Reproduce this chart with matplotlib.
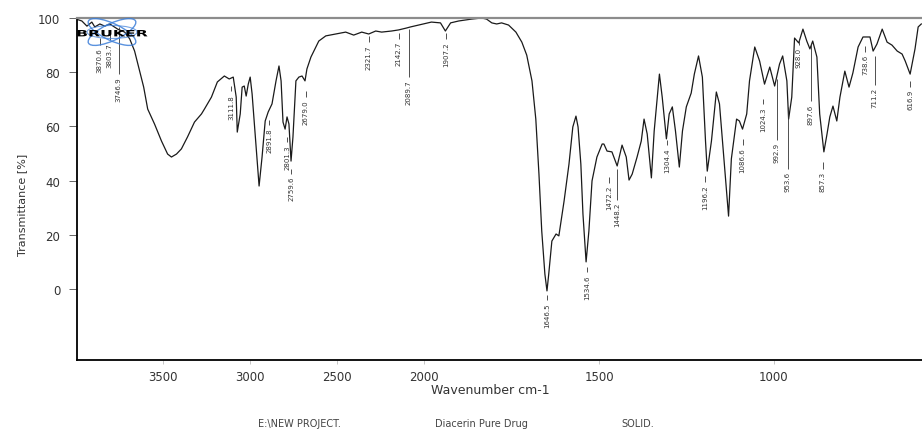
import numpy as np
import matplotlib
matplotlib.use("Agg")
import matplotlib.pyplot as plt
from matplotlib.patches import Ellipse, PathPatch
from matplotlib.textpath import TextPath
from matplotlib.font_manager import FontProperties
from matplotlib.transforms import Affine2D

# spectrum: wavenumber (cm-1) and transmittance (%)
wavenumber = [3990, 3962, 3933, 3905, 3888, 3859, 3831, 3802, 3757, 3717, 3688, 3660, 3631, 3608,
              3585, 3546, 3506, 3471, 3449, 3420, 3392, 3357, 3317, 3277, 3260, 3220, 3186, 3146,
              3118, 3095, 3078, 3072, 3055, 3044, 3032, 3021, 3009, 2998, 2987, 2964, 2947, 2930,
              2912, 2895, 2873, 2850, 2833, 2821, 2810, 2798, 2787, 2776, 2764, 2753, 2736, 2719,
              2701, 2684, 2673, 2650, 2622, 2605, 2565, 2508, 2451, 2405, 2359, 2319, 2279, 2245,
              2188, 2148, 2103, 2080, 2034, 1980, 1954, 1940, 1925, 1902, 1865, 1836, 1822, 1807,
              1793, 1779, 1759, 1738, 1721, 1707, 1692, 1681, 1672, 1664, 1655, 1649, 1644, 1635,
              1623, 1615, 1600, 1586, 1575, 1566, 1560, 1552, 1546, 1537, 1529, 1520, 1506, 1491,
              1486, 1477, 1463, 1448, 1434, 1422, 1414, 1405, 1391, 1379, 1371, 1362, 1350, 1342,
              1327, 1319, 1307, 1299, 1290, 1281, 1270, 1261, 1250, 1236, 1227, 1215, 1204, 1195,
              1190, 1178, 1164, 1155, 1141, 1129, 1121, 1106, 1098, 1089, 1077, 1069, 1054, 1040,
              1026, 1011, 997, 983, 974, 962, 957, 948, 940, 928, 916, 905, 896, 888, 876, 868,
              856, 847, 839, 830, 819, 810, 796, 784, 773, 758, 744, 724, 715, 704, 689, 675,
              661, 646, 632, 623, 609, 595, 586, 577]
transmittance = [99.5, 98.9, 97.0, 98.5, 96.7, 97.8, 97.0, 97.8, 95.9, 94.8, 92.3, 87.8, 80.4, 74.5,
                 66.4, 60.9, 54.6, 49.8, 48.7, 49.8, 51.7, 56.1, 61.6, 64.6, 66.4, 70.8, 76.4, 78.6,
                 77.5, 78.2, 70.8, 57.9, 64.6, 74.5, 74.9, 71.2, 75.6, 78.2, 72.0, 52.4, 38.0, 48.7,
                 62.0, 65.3, 68.3, 76.8, 82.3, 76.8, 61.6, 59.0, 63.5, 60.9, 47.2, 56.1, 76.8, 78.2,
                 78.6, 76.8, 81.2, 85.6, 89.3, 91.5, 93.4, 94.1, 94.8, 93.7, 94.8, 94.1, 95.2, 94.8,
                 95.2, 95.6, 96.3, 96.7, 97.4, 98.5, 98.2, 95.2, 98.2, 98.9, 99.6, 100.0, 99.6, 98.2,
                 97.8, 98.2, 97.4, 94.8, 91.1, 86.3, 76.8, 62.7, 42.4, 21.4, 5.5, -0.7, 5.5, 17.7,
                 20.3, 19.6, 32.5, 46.1, 59.8, 63.8, 59.8, 46.1, 27.7, 10.0, 21.4, 39.9, 48.7, 53.5,
                 53.5, 50.9, 50.6, 45.4, 53.1, 48.7, 40.2, 42.4, 48.7, 54.6, 62.7, 57.2, 41.0, 58.3,
                 79.3, 70.8, 55.4, 64.6, 67.2, 58.3, 45.0, 58.3, 67.2, 72.3, 79.3, 86.0, 78.2, 54.6,
                 43.5, 54.6, 72.7, 68.3, 46.1, 26.9, 48.0, 62.7, 62.0, 59.0, 64.6, 76.8, 89.3, 84.1,
                 75.6, 81.9, 74.9, 83.0, 86.0, 76.8, 62.7, 70.8, 92.6, 90.8, 95.9, 91.5, 88.6, 91.5, 85.6, 64.6,
                 50.6, 57.2, 63.5, 67.5, 62.0, 70.8, 80.4, 74.5, 79.7, 89.3, 93.0, 93.0, 87.8, 90.4, 95.9, 91.1,
                 90.0, 87.8, 86.7, 84.1, 79.3, 88.6, 96.7, 97.8]

# peak labels as printed by the instrument software
peak_text = ["3870.6", "3803.7", "3746.9", "3111.8", "2891.8", "2801.3", "2759.6", "2679.0",
             "2321.7", "2142.7", "2089.7", "1907.2", "1646.5", "1534.6", "1472.2", "1448.2",
             "1304.4", "1196.2", "1086.6", "1024.3", "992.9", "953.6", "928.0", "897.6",
             "857.3", "738.6", "711.2", "616.9"]
peak_pos = [3859, 3802, 3751, 3105, 2890, 2787, 2764, 2679,
            2319, 2148, 2091, 1937, 1649, 1535, 1472, 1448,
            1304, 1196, 1089, 1029, 991, 960, 928, 893,
            859, 738, 710, 609]
# where each label text starts (top) and where its leader line ends
label_top = [89.3, 91.1, 78.6, 72.0, 59.8, 53.5, 41.7, 70.1,
             90.4, 91.5, 77.5, 91.5, -4.8, 5.2, 38.4, 32.1,
             52.4, 38.7, 52.4, 67.2, 54.2, 43.5, 89.3, 68.3,
             43.5, 86.7, 74.5, 73.8]
line_top = [92.6, 94.1, 96.7, 74.8, 62.4, 56.1, 44.3, 73.1,
            93.4, 94.5, 95.9, 94.5, -2.2, 8.1, 41.3, 44.3,
            55.0, 41.7, 55.4, 70.1, 77.5, 67.2, 92.3, 90.4,
            46.9, 89.7, 86.0, 76.8]


def fwd(x):
    x = np.asarray(x, dtype=float)
    return np.where(x > 2000, 2000 + (x - 2000) / 2.0, x)


def inv(u):
    u = np.asarray(u, dtype=float)
    return np.where(u > 2000, 2000 + (u - 2000) * 2.0, u)


fig = plt.figure(figsize=(9.22, 4.31), dpi=100)
ax = fig.add_axes([0.0835, 0.1624, 0.9165, 0.7935])

ax.plot(wavenumber, transmittance, color="#1a1a1a", lw=0.9)

ax.set_xscale("function", functions=(fwd, inv))
ax.set_xlim(3990, 575)
ax.set_ylim(-26.2, 100)
ax.set_xticks([3500, 3000, 2500, 2000, 1500, 1000])
ax.set_xticklabels(["3500", "3000", "2500", "2000", "1500", "1000"])
ax.set_yticks([0, 20, 40, 60, 80, 100])
ax.tick_params(axis="x", direction="out", length=3, width=0.6, color="#bbbbbb",
               labelsize=8.5, labelcolor="#333333", pad=4)
ax.tick_params(axis="y", direction="out", length=6, width=0.7, color="#666666",
               labelsize=8.5, labelcolor="#333333", pad=6)

for side in ["left", "bottom"]:
    ax.spines[side].set_color("black")
    ax.spines[side].set_linewidth(1.3)
ax.spines["top"].set_color("#8c8c8c")
ax.spines["top"].set_linewidth(1.6)
ax.spines["right"].set_visible(False)

lab_font = ["Liberation Sans Narrow", "DejaVu Sans"]
for txt, pos, ty, ly in zip(peak_text, peak_pos, label_top, line_top):
    ax.text(pos, ty, txt, rotation=90, ha="center", va="top", fontsize=5,
            color="#333333", family=lab_font)
    ax.vlines(pos, ty + 0.9, ly, color="#333333", lw=0.6)

fig.text(490 / 922, 1 - 391 / 431, "Wavenumber cm-1", ha="center", va="center",
         fontsize=9, color="#333333")
fig.text(22 / 922, 1 - 205 / 431, "Transmittance [%]", ha="center", va="center",
         rotation=90, fontsize=8, color="#333333", family=lab_font)

foot = ["E:\\NEW PROJECT.", "Diacerin Pure Drug", "SOLID."]
foot_x = [299, 481, 638]
for t, fx in zip(foot, foot_x):
    fig.text(fx / 922, 2 / 431, t, ha="center", va="bottom", fontsize=7, color="#444444")

# Bruker logo: orbits and stretched word mark (coordinates in inches)
for ang in [25, -25]:
    fig.patches.append(Ellipse((1.12, 4.31 - 0.33), 0.52, 0.17, angle=ang,
                               transform=fig.dpi_scale_trans, fill=False,
                               ec="#3d7fd9", lw=1.0, alpha=0.85))
fig.patches.append(Ellipse((1.12, 4.31 - 0.33), 0.5, 0.13, angle=0,
                           transform=fig.dpi_scale_trans, fill=False,
                           ec="#3d7fd9", lw=0.8, alpha=0.7))
tp = TextPath((0, 0), "BRUKER", size=1, prop=FontProperties(family="DejaVu Sans", weight="bold"))
bb = tp.get_extents()
tr = Affine2D().translate(-bb.x0, -bb.y0).scale(0.70 / bb.width, 0.065 / bb.height)
tr = tr.translate(0.775, 4.31 - 0.375)
fig.patches.append(PathPatch(tr.transform_path(tp), transform=fig.dpi_scale_trans,
                             fc="black", ec="none"))

fig.savefig("out.png", dpi=100)
